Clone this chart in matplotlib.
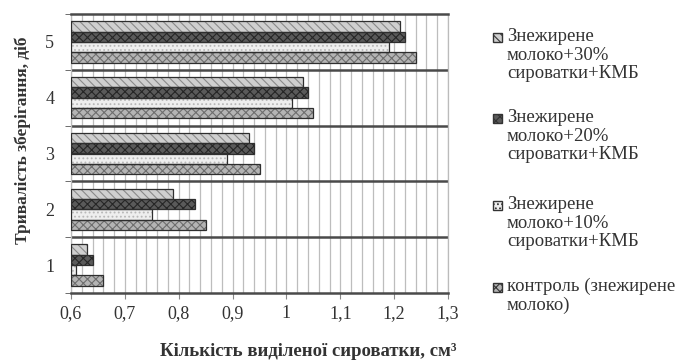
import numpy as np
import matplotlib
matplotlib.use("Agg")
import matplotlib.pyplot as plt
from matplotlib.patches import Rectangle
from matplotlib.ticker import MultipleLocator, FixedLocator

plt.rcParams['font.family'] = ['Liberation Serif', 'DejaVu Serif']
plt.rcParams['hatch.linewidth'] = 0.8

# Storage duration, days
days = [1, 2, 3, 4, 5]

# Volume of separated whey, cm3
control = [0.66, 0.85, 0.95, 1.05, 1.24]
whey10 = [0.61, 0.75, 0.89, 1.01, 1.19]
whey20 = [0.64, 0.83, 0.94, 1.04, 1.22]
whey30 = [0.63, 0.79, 0.93, 1.03, 1.21]

labels = [
    "Знежирене\nмолоко+30%\nсироватки+КМБ",
    "Знежирене\nмолоко+20%\nсироватки+КМБ",
    "Знежирене\nмолоко+10%\nсироватки+КМБ",
    "контроль (знежирене\nмолоко)",
]
x_ticks = [0.6, 0.7, 0.8, 0.9, 1.0, 1.1, 1.2, 1.3]
x_tick_labels = ["0,6", "0,7", "0,8", "0,9", "1", "1,1", "1,2", "1,3"]

# (face, hatch, hatch colour) for each series, bottom to top within a group
styles = [
    ("#b4b4b4", "xxxx", "#6e6e6e"),      # control
    ("#eeeeee", "....", "#b8b8b8"),      # +10%
    ("#5a5a5a", "xxxx", "#262626"),      # +20%
    ("#cfcfcf", "\\\\\\\\", "#8a8a8a"),  # +30%
]
series = [control, whey10, whey20, whey30]

W, H = 677, 362
fig = plt.figure(figsize=(W / 100, H / 100), dpi=100)
ax = fig.add_axes([71 / W, 1 - 293 / H, (448 - 71) / W, (293 - 14) / H])

y = np.array(days, dtype=float)
h = 0.185
base = 0.6
for i, (vals, (face, hatch, hc)) in enumerate(zip(series, styles)):
    pos = y + (i - 1.5) * h
    widths = np.array(vals) - base
    ax.barh(pos, widths, height=h, left=base, color=face, hatch=hatch,
            edgecolor=hc, linewidth=0, zorder=3)
    ax.barh(pos, widths, height=h, left=base, fill=False,
            edgecolor="#2e2e2e", linewidth=0.9, zorder=4)

ax.set_xlim(0.6, 1.3)
ax.set_ylim(0.5, 5.5)

ax.set_xticks(x_ticks)
ax.set_xticklabels(x_tick_labels, fontsize=13, color="#333333")
ax.xaxis.set_minor_locator(MultipleLocator(0.02))
ax.grid(axis="x", which="both", color="#bdbdbd", linewidth=0.9, zorder=0)

ax.set_yticks(days)
ax.set_yticklabels([str(d) for d in days], fontsize=13, color="#333333")
ax.yaxis.set_minor_locator(FixedLocator([0.5, 1.5, 2.5, 3.5, 4.5, 5.5]))
ax.tick_params(axis="y", which="major", length=0, pad=12)
ax.tick_params(axis="y", which="minor", length=4, color="#555555")
ax.tick_params(axis="x", which="major", length=4, color="#888888", pad=5)
ax.tick_params(axis="x", which="minor", length=0)

for b in [1.5, 2.5, 3.5, 4.5]:
    ax.axhline(b, color="#4a4a4a", linewidth=1.8, zorder=2)

for side in ["top", "bottom"]:
    ax.spines[side].set_color("#4a4a4a")
    ax.spines[side].set_linewidth(1.8)
for side in ["left", "right"]:
    ax.spines[side].set_color("#bbbbbb")
    ax.spines[side].set_linewidth(0.9)

fig.text(308 / W, 1 - 351 / H, "Кількість виділеної сироватки, см³",
         ha="center", va="center", fontsize=13.5, fontweight="bold", color="#333333")
fig.text(23 / W, 1 - 140 / H, "Тривалість зберігання, діб", rotation=90,
         ha="center", va="center", fontsize=12.5, fontweight="bold", color="#333333")

# Legend: small hatched squares aligned with the first line of each label
entry_tops = [37, 118, 205, 287]
for (face, hatch, hc), label, ty in zip(reversed(styles), labels, entry_tops):
    box = Rectangle((493 / W, 1 - (ty + 4.5) / H), 9 / W, 9 / H,
                    transform=fig.transFigure, facecolor=face, hatch=hatch,
                    edgecolor="#333333", linewidth=1.0)
    fig.add_artist(box)
    fig.text(507 / W, 1 - (ty - 9) / H, label, ha="left", va="top",
             fontsize=13.5, color="#333333", linespacing=1.12)

fig.savefig("out.png", dpi=100)
